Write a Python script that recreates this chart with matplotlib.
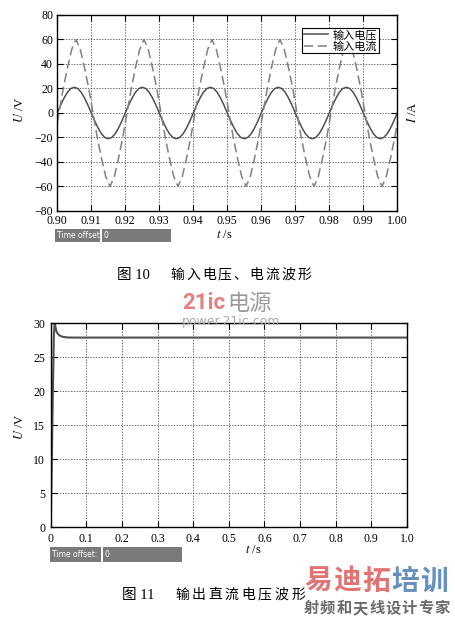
import numpy as np
import matplotlib
matplotlib.use("Agg")
import matplotlib.pyplot as plt
from matplotlib.patches import Rectangle

plt.rcParams['font.family'] = ['Liberation Serif', 'Noto Sans CJK SC', 'DejaVu Sans']
plt.rcParams['mathtext.fontset'] = 'stix'

W, H = 456, 619

# ---- fig 10 : input voltage / current ----
t_in = np.round(np.arange(0.900, 1.0005, 0.001), 3)
u_in = [0, 6.5, 12.3, 17.0, 20.0, 21.0, 20.0, 17.0, 12.3, 6.5,
        0, -6.5, -12.3, -17.0, -20.0, -21.0, -20.0, -17.0, -12.3, -6.5,
        0, 6.5, 12.3, 17.0, 20.0, 21.0, 20.0, 17.0, 12.3, 6.5,
        0, -6.5, -12.3, -17.0, -20.0, -21.0, -20.0, -17.0, -12.3, -6.5,
        0, 6.5, 12.3, 17.0, 20.0, 21.0, 20.0, 17.0, 12.3, 6.5,
        0, -6.5, -12.3, -17.0, -20.0, -21.0, -20.0, -17.0, -12.3, -6.5,
        0, 6.5, 12.3, 17.0, 20.0, 21.0, 20.0, 17.0, 12.3, 6.5,
        0, -6.5, -12.3, -17.0, -20.0, -21.0, -20.0, -17.0, -12.3, -6.5,
        0, 6.5, 12.3, 17.0, 20.0, 21.0, 20.0, 17.0, 12.3, 6.5,
        0, -6.5, -12.3, -17.0, -20.0, -21.0, -20.0, -17.0, -12.3, -6.5,
        0]

t_cur = np.concatenate([[0.900], 0.9005 + 0.00125 * np.arange(80), [1.000]])
i_in = [-8,
        0, 20, 37, 52, 60, 52, 37, 20, 0, -20, -37, -52, -60, -52, -37, -20,
        0, 20, 37, 52, 60, 52, 37, 20, 0, -20, -37, -52, -60, -52, -37, -20,
        0, 20, 37, 52, 60, 52, 37, 20, 0, -20, -37, -52, -60, -52, -37, -20,
        0, 20, 37, 52, 60, 52, 37, 20, 0, -20, -37, -52, -60, -52, -37, -20,
        0, 20, 37, 52, 60, 52, 37, 20, 0, -20, -37, -52, -60, -52, -37, -20,
        -8]

xticks_in = [0.90, 0.91, 0.92, 0.93, 0.94, 0.95, 0.96, 0.97, 0.98, 0.99, 1.00]
yticks_in = [-80, -60, -40, -20, 0, 20, 40, 60, 80]

# ---- fig 11 : output dc voltage ----
t_out = [0, 0.003, 0.006, 0.009, 0.011, 0.013, 0.015, 0.018, 0.021, 0.025,
         0.030, 0.035, 0.045, 0.060, 0.1, 0.2, 0.3, 0.4, 0.5, 0.6, 0.7, 0.8, 0.9, 1.0]
u_out = [0, 9.5, 19.5, 28.5, 30.0, 29.6, 29.0, 28.6, 28.4, 28.2,
         28.08, 28.0, 27.93, 27.9, 27.9, 27.9, 27.9, 27.9, 27.9, 27.9, 27.9, 27.9, 27.9, 27.9]

xticks_out = [0, 0.1, 0.2, 0.3, 0.4, 0.5, 0.6, 0.7, 0.8, 0.9, 1.0]
xlabels_out = ['0', '0.1', '0.2', '0.3', '0.4', '0.5', '0.6', '0.7', '0.8', '0.9', '1.0']
yticks_out = [0, 5, 10, 15, 20, 25, 30]


def fx(px):
    return px / W


def fy(py):
    return 1 - py / H


def style_axes(ax, pad):
    ax.tick_params(direction='in', top=True, right=True, length=4, width=0.8,
                   labelsize=8.5, pad=pad, colors='black')
    ax.grid(True, color='#333333', linestyle=(0, (2, 2)), linewidth=0.5)
    for s in ax.spines.values():
        s.set_linewidth(1.0)
        s.set_color('black')


def offset_box(x0, xs, x1, y0, y1):
    fig.add_artist(Rectangle((fx(x0), fy(y1)), fx(xs - x0), (y1 - y0) / H,
                             facecolor='#7a7a7a', edgecolor='none', transform=fig.transFigure))
    fig.add_artist(Rectangle((fx(xs + 2), fy(y1)), fx(x1 - xs - 2), (y1 - y0) / H,
                             facecolor='#7a7a7a', edgecolor='none', transform=fig.transFigure))
    fig.text(fx(x0 + 2), fy((y0 + y1) / 2), 'Time offset:', color='white', fontsize=5.5,
             family='DejaVu Sans', va='center', ha='left')
    fig.text(fx(xs + 4), fy((y0 + y1) / 2), '0', color='white', fontsize=5.5,
             family='DejaVu Sans', va='center', ha='left')


def spaced(x, y, s, pitch, **kw):
    for k, ch in enumerate(s):
        fig.text(fx(x + k * pitch), fy(y), ch, ha='center', va='center', **kw)


fig = plt.figure(figsize=(W / 100, H / 100), dpi=100)

# top chart
ax1 = fig.add_axes([fx(57.3), fy(211), fx(397.3 - 57.3), (211 - 15) / H])
ax1.plot(t_in, u_in, '-', color='#505050', lw=1.1, label='输入电压')
ax1.plot(t_cur, i_in, '--', color='#808080', lw=1.1, dashes=(6, 3), label='输入电流')
ax1.set_xlim(0.90, 1.00)
ax1.set_ylim(-80, 80)
ax1.set_xticks(xticks_in)
ax1.set_xticklabels(['%.2f' % v for v in xticks_in])
ax1.set_yticks(yticks_in)
style_axes(ax1, 3)
ax1.legend(loc='upper right', bbox_to_anchor=(fx(379), fy(28)), bbox_transform=fig.transFigure,
           fancybox=False, edgecolor='black', framealpha=1, fontsize=8, handlelength=2.2,
           borderpad=0.15, labelspacing=0.05, handletextpad=0.4, borderaxespad=0)
ax1.get_legend().get_frame().set_linewidth(0.8)

fig.text(fx(20), fy(110), '$U$ /V', rotation=90, ha='center', va='center', fontsize=9)
fig.text(fx(413), fy(112), '$I$ /A', rotation=90, ha='center', va='center', fontsize=9)
fig.text(fx(224), fy(235), '$t$ /s', ha='center', va='center', fontsize=9)
offset_box(55, 100, 171, 229, 242)

# bottom chart
ax2 = fig.add_axes([fx(50.7), fy(527.3), fx(407 - 50.7), (527.3 - 323.3) / H])
ax2.plot(t_out, u_out, '-', color='#505050', lw=1.5)
ax2.set_xlim(0, 1.0)
ax2.set_ylim(0, 30)
ax2.set_xticks(xticks_out)
ax2.set_xticklabels(xlabels_out)
ax2.set_yticks(yticks_out)
style_axes(ax2, 4)

fig.text(fx(20), fy(427), '$U$ /V', rotation=90, ha='center', va='center', fontsize=9)
fig.text(fx(253), fy(550), '$t$ /s', ha='center', va='center', fontsize=9)
offset_box(50, 101, 182, 547, 562)

# captions
fig.text(fx(117), fy(275), '图 10', ha='left', va='center', fontsize=10.5)
spaced(177, 275, '输入电压、电流波形', 15.9, fontsize=10)
fig.text(fx(122), fy(595), '图 11', ha='left', va='center', fontsize=10.5)
spaced(182, 595, '输出直流电压波形', 16.6, fontsize=10)

# watermarks
fig.text(fx(182), fy(303), '21ic', color='#e58080', fontsize=16, weight='bold',
         family='Roboto', ha='left', va='center')
fig.text(fx(227), fy(303), '电源', color='#9a9a9a', fontsize=16,
         family='Noto Sans CJK SC', ha='left', va='center')
fig.text(fx(182), fy(322), 'power.21ic.com', color='#aaaaaa', fontsize=9,
         family='DejaVu Sans', ha='left', va='center')
spaced(318, 582, '易迪拓', 29, fontsize=20, weight='bold', color='#df6464',
       family='Noto Sans CJK SC', alpha=0.9)
spaced(405, 582, '培训', 29, fontsize=20, weight='bold', color='#5683b8',
       family='Noto Sans CJK SC', alpha=0.9)
spaced(311, 608, '射频和天线设计专家', 16.4, fontsize=11, weight='bold', color='#6a6a6a',
       family='Noto Sans CJK SC')

fig.savefig('out.png', dpi=100)
